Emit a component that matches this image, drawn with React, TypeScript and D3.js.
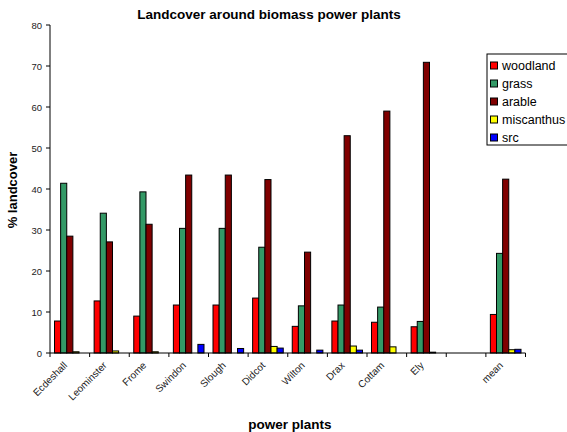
import React from "react";
import * as d3 from "d3";

const categories = ["Ecdeshall", "Leominster", "Frome", "Swindon", "Slough", "Didcot", "Wilton", "Drax", "Cottam", "Ely", "", "mean"];
const seriesNames = ["woodland", "grass", "arable", "miscanthus", "src"];
const seriesColors = ["#FF0000", "#339966", "#800000", "#FFFF00", "#0000FF"];
const woodland = [7.8, 12.7, 9.0, 11.7, 11.7, 13.4, 6.5, 7.8, 7.5, 6.4, 0, 9.4];
const grass = [41.4, 34.1, 39.3, 30.4, 30.4, 25.8, 11.5, 11.7, 11.2, 7.7, 0, 24.3];
const arable = [28.5, 27.1, 31.4, 43.4, 43.4, 42.3, 24.6, 53.0, 59.0, 70.9, 0, 42.4];
const miscanthus = [0.3, 0.5, 0.3, 0, 0, 1.6, 0, 1.7, 1.5, 0.2, 0, 0.8];
const src = [0, 0, 0, 2.1, 1.1, 1.2, 0.7, 0.7, 0, 0, 0, 0.9];
const yTicks = [0, 10, 20, 30, 40, 50, 60, 70, 80];

const seriesValues = [woodland, grass, arable, miscanthus, src];

export default function App() {
  const W = 567, H = 432;
  const left = 50, right = 525.5, top = 25, bottom = 353;
  const font = "'Liberation Sans', Arial, sans-serif";
  const x0 = d3.scaleBand<string>().domain(categories.map((c, i) => String(i))).range([left, right]).padding(0);
  const bw = x0.bandwidth();
  const x1 = d3.scaleBand<string>().domain(seriesNames).range([4.5, bw - 4.5]).padding(0);
  const y = d3.scaleLinear().domain([0, 80]).range([bottom, top]);

  return (
    <svg width={W} height={H} style={{ position: "absolute", left: 0, top: 0, background: "#fff" }} fontFamily={font}>
      <text x={269} y={19} textAnchor="middle" fontWeight="bold" fontSize={13.5}>Landcover around biomass power plants</text>
      {/* bars */}
      {categories.map((c, i) => (
        <g key={i} transform={`translate(${x0(String(i))},0)`}>
          {seriesNames.map((s, j) => {
            const v = seriesValues[j][i];
            if (v <= 0) return null;
            return (
              <rect key={s} x={x1(s)} y={y(v)} width={x1.bandwidth()} height={bottom - y(v)}
                fill={seriesColors[j]} stroke="#000" strokeWidth={1} />
            );
          })}
        </g>
      ))}
      {/* y axis */}
      <line x1={left} x2={left} y1={top} y2={bottom} stroke="#000" strokeWidth={1} />
      {yTicks.map(t => (
        <g key={t}>
          <line x1={left - 4} x2={left} y1={y(t)} y2={y(t)} stroke="#000" />
          <text x={left - 8} y={y(t) + 3.5} textAnchor="end" fontSize={9.5} fill="#222">{t}</text>
        </g>
      ))}
      {/* x axis */}
      <line x1={left} x2={right} y1={bottom} y2={bottom} stroke="#000" strokeWidth={1} />
      {categories.map((c, i) => (
        <line key={"t" + i} x1={x0(String(i))!} x2={x0(String(i))!} y1={bottom} y2={bottom + 4} stroke="#000" />
      ))}
      <line x1={right} x2={right} y1={bottom} y2={bottom + 4} stroke="#000" />
      {categories.map((c, i) => {
        const cx = x0(String(i))! + bw / 2 - 2;
        const cy = bottom + 13;
        return (
          <text key={"l" + i} x={cx} y={cy} transform={`rotate(-45 ${cx} ${cy})`} textAnchor="end" fontSize={10} fill="#222">{c}</text>
        );
      })}
      <text x={290} y={429} textAnchor="middle" fontWeight="bold" fontSize={13.5}>power plants</text>
      <text transform={`translate(17,190) rotate(-90)`} textAnchor="middle" fontWeight="bold" fontSize={13}>% landcover</text>
      {/* legend */}
      <rect x={487} y={54} width={90} height={91} fill="#fff" stroke="#000" strokeWidth={1} />
      {seriesNames.map((s, j) => (
        <g key={s}>
          <rect x={490.5} y={62 + j * 18} width={7} height={7} fill={seriesColors[j]} stroke="#000" />
          <text x={502} y={70 + j * 18} fontSize={12.5} fill="#000">{s}</text>
        </g>
      ))}
    </svg>
  );
}
